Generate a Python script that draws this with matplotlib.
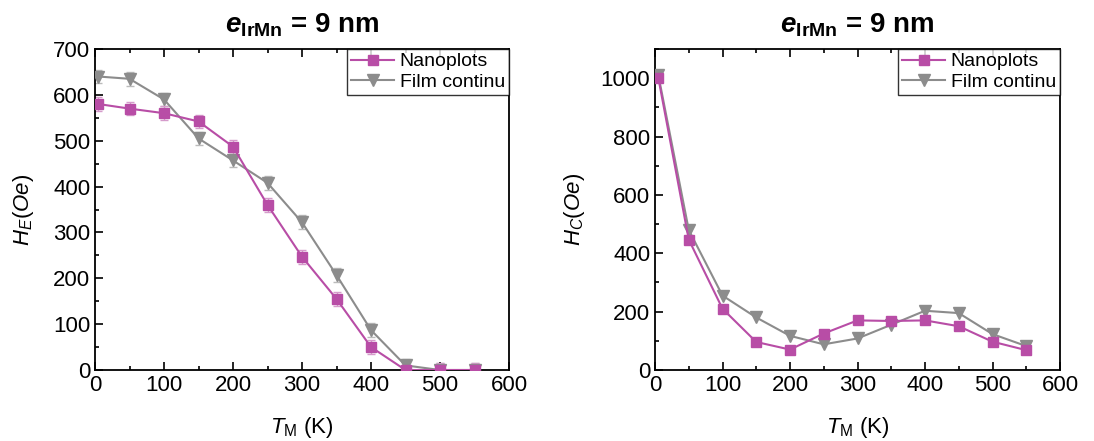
import numpy as np
import matplotlib.pyplot as plt
from matplotlib.ticker import MultipleLocator

plt.rcParams['font.family'] = ['Liberation Sans', 'DejaVu Sans']
plt.rcParams['mathtext.fontset'] = 'custom'
plt.rcParams['mathtext.rm'] = 'Liberation Sans'
plt.rcParams['mathtext.it'] = 'Liberation Sans:italic'
plt.rcParams['mathtext.bf'] = 'Liberation Sans:bold'
plt.rcParams['mathtext.bfit'] = 'Liberation Sans:bold:italic'

T = [5, 50, 100, 150, 200, 250, 300, 350, 400, 450, 500, 550]

he_nano = [580, 570, 560, 542, 487, 360, 247, 155, 50, 0, 0, 0]
he_film = [640, 635, 590, 505, 457, 408, 322, 207, 87, 10, 0, 0]
he_err = [15, 15, 15, 15, 15, 15, 15, 15, 15, 15, 15, 15]

hc_nano = [1000, 447, 210, 96, 70, 125, 170, 168, 170, 150, 97, 68]
hc_film = [1010, 480, 255, 180, 117, 88, 108, 155, 203, 195, 123, 82]

c_nano = '#B84DA6'
c_film = '#8C8C8C'

fig = plt.figure(figsize=(10.94, 4.41), dpi=100)
ax1 = fig.add_axes([95/1094, 71/441, 414/1094, 321/441])
ax2 = fig.add_axes([655/1094, 71/441, 405/1094, 321/441])

# error bars first, then the lines with markers on top
ax1.errorbar(T, he_nano, yerr=he_err, fmt='none', capsize=3, elinewidth=1, ecolor='#D59BCB', zorder=2)
ax1.errorbar(T, he_film, yerr=he_err, fmt='none', capsize=3, elinewidth=1, ecolor='#BBBBBB', zorder=1)
ax1.plot(T, he_nano, color=c_nano, marker='s', ms=7, lw=1.5, label='Nanoplots', zorder=4)
ax1.plot(T, he_film, color=c_film, marker='v', ms=8, lw=1.5, label='Film continu', zorder=3)
ax2.plot(T, hc_nano, color=c_nano, marker='s', ms=7, lw=1.5, label='Nanoplots', zorder=4)
ax2.plot(T, hc_film, color=c_film, marker='v', ms=8, lw=1.5, label='Film continu', zorder=3)

ax1.set_ylim(0, 700)
ax1.yaxis.set_major_locator(MultipleLocator(100))
ax1.yaxis.set_minor_locator(MultipleLocator(50))
ax1.set_ylabel('$H_E(Oe)$', fontsize=16, labelpad=12)

ax2.set_ylim(0, 1100)
ax2.yaxis.set_major_locator(MultipleLocator(200))
ax2.yaxis.set_minor_locator(MultipleLocator(100))
ax2.set_ylabel('$H_C(Oe)$', fontsize=16, labelpad=10)

for ax in (ax1, ax2):
    ax.set_xlim(0, 600)
    ax.xaxis.set_major_locator(MultipleLocator(100))
    ax.xaxis.set_minor_locator(MultipleLocator(50))
    ax.tick_params(which='both', direction='in', top=True, right=False, labelsize=16)
    ax.tick_params(which='major', length=6, width=1.2)
    ax.tick_params(which='minor', length=3, width=1.2)
    for s in ax.spines.values():
        s.set_linewidth(1.3)
    ax.set_xlabel('$T_\\mathrm{M}$ (K)', fontsize=16, labelpad=14)
    ax.set_title('$\\mathbfit{e}_{\\mathbf{IrMn}}$ = 9 nm', fontsize=20, fontweight='bold', pad=12)
    leg = ax.legend(loc='upper right', fontsize=14, frameon=True, fancybox=False,
                    edgecolor='black', borderaxespad=0, handlelength=2.2,
                    borderpad=0.2, labelspacing=0.15, handletextpad=0.3)
    leg.get_frame().set_linewidth(1.0)

fig.savefig('out.png', dpi=100)
